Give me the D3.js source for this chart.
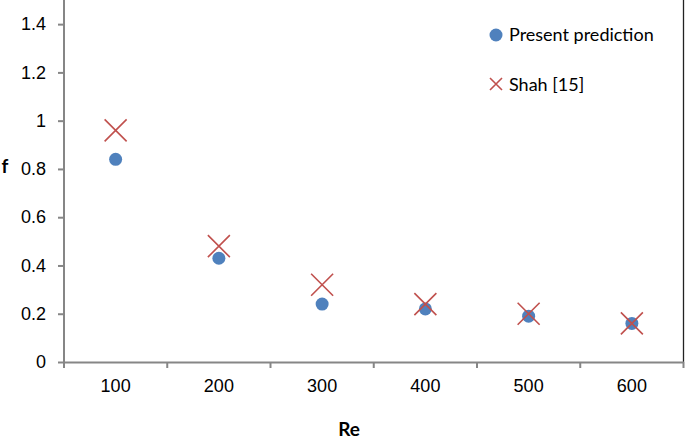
<!DOCTYPE html>
<html><head><meta charset="utf-8">
<script src="https://cdn.jsdelivr.net/npm/d3@7"></script>
<style>body{margin:0;background:#fff;}svg{display:block;}</style>
</head><body>
<svg id="chart" width="685" height="443"></svg>
<script>
const categories = ["100","200","300","400","500","600"];
const presentPrediction = [0.84, 0.43, 0.24, 0.22, 0.19, 0.16];
const shah = [0.96, 0.48, 0.32, 0.24, 0.20, 0.16];
const yTicks = [0, 0.2, 0.4, 0.6, 0.8, 1, 1.2, 1.4];
const seriesNames = ["Present prediction", "Shah [15]"];

(function () {
const svg = d3.select("#chart");
const mLeft = 64, mRight = 683.5, mTop = 0, mBottom = 362;
const x = d3.scaleBand().domain(categories).range([mLeft, mRight]);
const y = d3.scaleLinear().domain([0, 1.5]).range([mBottom, mTop]);
const axisColor = "#868686";
const tickFont = "'Liberation Sans', Arial, sans-serif";
const labelFont = "Lato, Calibri, sans-serif";

svg.append("line").attr("x1", mRight).attr("x2", mRight).attr("y1", 0).attr("y2", mBottom)
  .attr("stroke", "#222").attr("stroke-width", 1.3);

const ya = svg.append("g").attr("transform", `translate(${mLeft},0)`)
  .call(d3.axisLeft(y).tickValues(yTicks).tickSize(6).tickPadding(12).tickFormat(d3.format("~g")));
ya.select(".domain").attr("stroke", axisColor).attr("stroke-width", 2).attr("d", `M0,${mBottom}V0`);
ya.selectAll(".tick line").attr("stroke", axisColor).attr("stroke-width", 2);
ya.selectAll(".tick text").style("font-family", tickFont).style("font-size", "18px").attr("fill", "#000");

const xa = svg.append("g").attr("transform", `translate(0,${mBottom})`)
  .call(d3.axisBottom(x).tickSize(0).tickPadding(17));
xa.select(".domain").attr("stroke", axisColor).attr("stroke-width", 2);
xa.selectAll(".tick text").style("font-family", tickFont).style("font-size", "18px").attr("fill", "#000");
const bounds = categories.map(c => x(c)).concat([x.range()[1]]);
svg.append("g").selectAll("line").data(bounds).join("line")
  .attr("x1", d => d).attr("x2", d => d).attr("y1", mBottom).attr("y2", mBottom + 6)
  .attr("stroke", axisColor).attr("stroke-width", 2);

svg.append("text").attr("x", 349).attr("y", 436).attr("text-anchor", "middle")
  .style("font-family", labelFont).attr("font-weight", "bold").style("font-size", "19px").text("Re");
svg.append("text").attr("x", 5).attr("y", 173).attr("text-anchor", "middle")
  .style("font-family", labelFont).attr("font-weight", "bold").style("font-size", "19px").text("f");

const cx = c => x(c) + x.bandwidth() / 2;
const blue = "#4F81BD", red = "#C0504D";
const xSize = 11;

function cross(g, px, py) {
  g.append("path").attr("d", `M${px - xSize},${py - xSize}L${px + xSize},${py + xSize}M${px - xSize},${py + xSize}L${px + xSize},${py - xSize}`)
    .attr("stroke", red).attr("stroke-width", 1.6).attr("fill", "none");
}

svg.append("g").selectAll("circle").data(categories).join("circle")
  .attr("cx", d => cx(d)).attr("cy", (d, i) => y(presentPrediction[i])).attr("r", 6.5).attr("fill", blue);
const cg = svg.append("g");
categories.forEach((c, i) => cross(cg, cx(c), y(shah[i])));

const lg = svg.append("g");
lg.append("circle").attr("cx", 496).attr("cy", 35).attr("r", 6.5).attr("fill", blue);
lg.append("text").attr("x", 509).attr("y", 41).style("font-family", labelFont).style("font-size", "18px").text(seriesNames[0]);
const lx = 496, ly = 84;
lg.append("path").attr("d", `M${lx - 6},${ly - 6}L${lx + 6},${ly + 6}M${lx - 6},${ly + 6}L${lx + 6},${ly - 6}`)
  .attr("stroke", red).attr("stroke-width", 1.6);
lg.append("text").attr("x", 509).attr("y", 91).style("font-family", labelFont).style("font-size", "18px").text(seriesNames[1]);
})();
</script>
</body></html>
